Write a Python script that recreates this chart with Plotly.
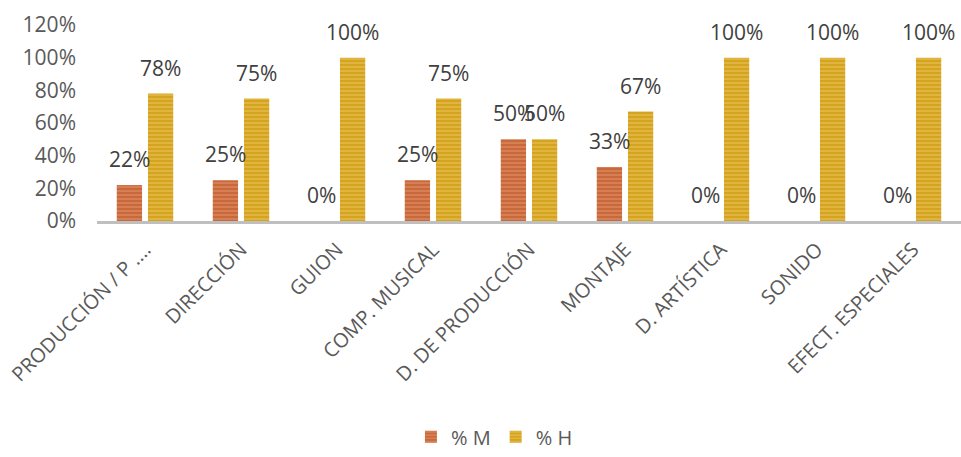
import plotly.graph_objects as go

categories = ["PRODUCCIÓN / P ....", "DIRECCIÓN", "GUION", "COMP. MUSICAL",
              "D. DE PRODUCCIÓN", "MONTAJE", "D. ARTÍSTICA", "SONIDO", "EFECT. ESPECIALES"]
pct_m = [0.22, 0.25, 0.0, 0.25, 0.50, 0.33, 0.0, 0.0, 0.0]
pct_h = [0.78, 0.75, 1.00, 0.75, 0.50, 0.67, 1.00, 1.00, 1.00]
series_names = ["% M", "% H"]
y_ticks = [0, 0.2, 0.4, 0.6, 0.8, 1.0, 1.2]

col_m, light_m = "#C9683A", "#EDA884"
col_h, light_h = "#D6A31E", "#F0D27A"
text_col = "#404040"
font = "Open Sans, Carlito, sans-serif"

fig = go.Figure()
for name, vals, c, lc in [(series_names[0], pct_m, col_m, light_m),
                          (series_names[1], pct_h, col_h, light_h)]:
    fig.add_trace(go.Bar(
        x=categories, y=vals, name=name,
        marker=dict(color=c, line=dict(width=0),
                    pattern=dict(shape="-", fgcolor=lc, bgcolor=c, size=4, solidity=0.35)),
    ))

# data labels above bars (offset like the original)
for vals, dx in [(pct_m, -15.5), (pct_h, 15.5)]:
    for cat, v in zip(categories, vals):
        fig.add_annotation(x=cat, y=v, xref="x", yref="y", text=f"{round(v*100)}%",
                           showarrow=False, xshift=dx, yshift=26, yanchor="middle",
                           font=dict(size=21, color=text_col, family=font))

fig.update_layout(
    width=961, height=457,
    margin=dict(l=97, r=0, t=25, b=236, autoexpand=False),
    plot_bgcolor="white", paper_bgcolor="white",
    barmode="group", bargap=0.35, bargroupgap=0.19,
    font=dict(family=font, color="#595959"),
    showlegend=True,
    legend=dict(orientation="h", x=0.46, xanchor="center", y=-1.2, yanchor="bottom",
                font=dict(size=20, color="#595959", family=font), itemwidth=30,
                tracegroupgap=0),
    xaxis=dict(showline=True, linecolor="#BFBFBF", linewidth=3, tickangle=-45,
               tickfont=dict(size=20, color="#595959", family=font), ticks="",
               showgrid=False, range=[-0.5, len(categories) - 0.5], ticklabelstandoff=6,
               automargin=False),
    yaxis=dict(range=[0, 1.2], tickvals=y_ticks, tickformat=".0%", showgrid=False,
               zeroline=False, showline=False, ticks="", automargin=False,
               tickfont=dict(size=21, color="#595959", family=font), ticklabelstandoff=20),
)

fig.write_html("out.html")
